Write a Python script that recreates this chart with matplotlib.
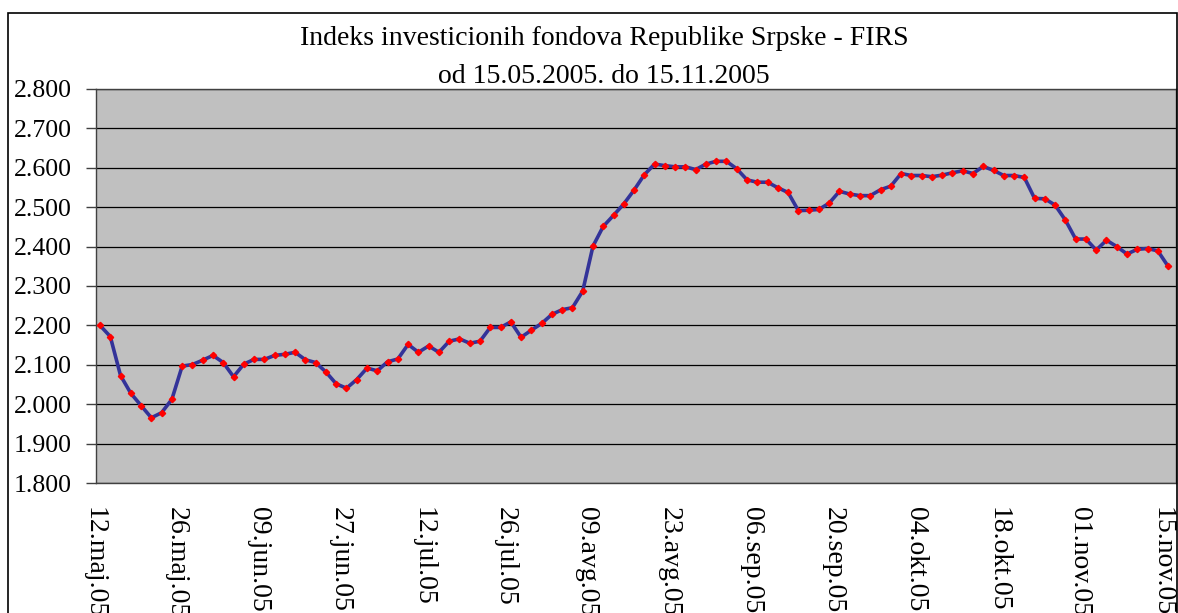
import matplotlib
matplotlib.use("Agg")
import matplotlib.pyplot as plt
import matplotlib.transforms as mtransforms
from matplotlib.patches import Rectangle
from matplotlib.ticker import FuncFormatter, MultipleLocator

# FIRS index values, one per trading day
firs_values = [
    2.200, 2.172, 2.073, 2.028, 1.997, 1.966, 1.979, 2.013, 2.097, 2.101,
    2.112, 2.124, 2.106, 2.070, 2.102, 2.114, 2.114, 2.124, 2.127, 2.132,
    2.113, 2.106, 2.082, 2.052, 2.041, 2.063, 2.092, 2.085, 2.108, 2.115,
    2.152, 2.132, 2.148, 2.132, 2.160, 2.166, 2.155, 2.160, 2.195, 2.195,
    2.209, 2.170, 2.188, 2.205, 2.228, 2.240, 2.245, 2.287, 2.401, 2.451,
    2.479, 2.508, 2.543, 2.582, 2.609, 2.605, 2.602, 2.602, 2.595, 2.609,
    2.616, 2.616, 2.597, 2.569, 2.563, 2.563, 2.549, 2.537, 2.491, 2.492,
    2.494, 2.510, 2.540, 2.533, 2.529, 2.529, 2.544, 2.553, 2.585, 2.580,
    2.580, 2.577, 2.581, 2.587, 2.592, 2.585, 2.603, 2.593, 2.580, 2.580,
    2.575, 2.522, 2.521, 2.505, 2.467, 2.419, 2.419, 2.391, 2.416, 2.400,
    2.381, 2.393, 2.395, 2.389, 2.350,
]

# date labels, shown every 8th point
tick_labels = ['12.maj.05', '26.maj.05', '09.jun.05', '27.jun.05', '12.jul.05',
               '26.jul.05', '09.avg.05', '23.avg.05', '06.sep.05', '20.sep.05',
               '04.okt.05', '18.okt.05', '01.nov.05', '15.nov.05']
label_step = 8

title_line1 = 'Indeks investicionih fondova Republike Srpske - FIRS'
title_line2 = 'od 15.05.2005. do 15.11.2005'

plt.rcParams['font.family'] = ['Liberation Serif', 'DejaVu Serif']

W, H = 1178, 613
fig = plt.figure(figsize=(W / 100, H / 100), dpi=100)
fig.patch.set_facecolor('white')

# outer chart border
fig.patches.append(Rectangle((8 / W, -0.1), 1169 / W, 1.1 - 13 / H,
                             transform=fig.transFigure, fill=False,
                             edgecolor='black', lw=1.2))

left, right, top, bottom = 95.7, 1176, 88.7, 483.3
ax = fig.add_axes([left / W, 1 - bottom / H, (right - left) / W, (bottom - top) / H])
ax.set_facecolor('#C0C0C0')

x = list(range(len(firs_values)))
ax.plot(x, firs_values, color='#333399', lw=2.6, zorder=3,
        marker='D', markersize=3.2, markerfacecolor='red', markeredgecolor='red')

ax.set_ylim(1.8, 2.8)
ax.yaxis.set_major_locator(MultipleLocator(0.1))
ax.yaxis.set_major_formatter(FuncFormatter(lambda v, p: f"{v:.3f}"))
ax.grid(axis='y', color='black', lw=0.9)
ax.set_axisbelow(True)

ax.set_xlim(-0.42, 104.77)
ax.set_xticks(x[::label_step])
ax.set_xticklabels(tick_labels, rotation=-90, va='top', ha='center')

ax.tick_params(axis='y', length=7, width=1, color='#404040', pad=10, labelsize=18.5)
ax.tick_params(axis='x', length=0, pad=17, labelsize=20)

# date labels sit a little left of their point in the original
shift = mtransforms.ScaledTranslation(-6 / 100, 0, fig.dpi_scale_trans)
for lbl in ax.get_xticklabels():
    lbl.set_transform(lbl.get_transform() + shift)

for s in ax.spines.values():
    s.set_color('#404040')
    s.set_linewidth(1)

fig.text(604 / W, 1 - 45 / H, title_line1, ha='center', va='baseline', fontsize=20)
fig.text(604 / W, 1 - 83 / H, title_line2, ha='center', va='baseline', fontsize=20)

fig.savefig('out.png', dpi=100)
